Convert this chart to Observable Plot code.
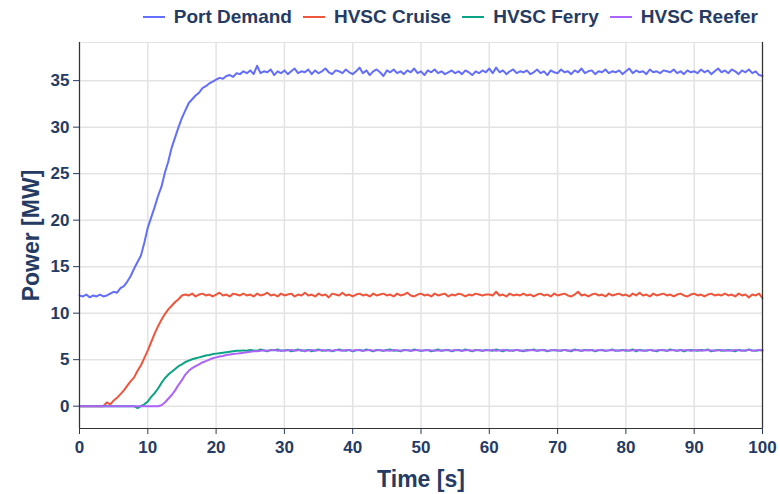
<!DOCTYPE html>
<html>
<head>
<meta charset="utf-8">
<script src="https://cdn.jsdelivr.net/npm/d3@7"></script>
<script src="https://cdn.jsdelivr.net/npm/@observablehq/plot@0.6"></script>
<style>
  html, body { margin: 0; padding: 0; background: #fff; }
  body { width: 780px; height: 494px; overflow: hidden; font-family: "Liberation Sans", Arial, sans-serif; }
  #legend { height: 34px; display: flex; align-items: center; justify-content: flex-end; padding-right: 22px; box-sizing: border-box;
            font-weight: bold; font-size: 19px; color: #253b63; }
  #legend .item { display: flex; align-items: center; margin-left: 11px; }
  #legend .sw { width: 22px; height: 2px; margin-right: 9px; }
</style>
</head>
<body>
<div id="legend"></div>
<div id="chart"></div>
<script>
// sampling grid (seconds)
const tStart = 0;
const tStep = 0.5;

const seriesNames = ["Port Demand", "HVSC Cruise", "HVSC Ferry", "HVSC Reefer"];
const seriesColors = ["#636efa", "#ef553b", "#0aa383", "#ab63fa"];

const portDemand = [
  11.9,11.8,12.0,11.7,11.9,11.8,12.0,11.8,11.9,12.1,
  12.3,12.2,12.7,12.9,13.4,14.0,14.8,15.5,16.2,17.6,
  19.2,20.3,21.4,22.6,23.6,25.1,26.3,27.8,28.9,30.0,
  31.0,31.8,32.6,33.0,33.4,33.7,34.2,34.4,34.7,34.9,
  35.1,35.3,35.2,35.5,35.6,35.4,35.8,35.7,36.0,35.8,
  36.1,35.7,36.6,35.8,36.0,35.9,36.2,35.6,36.0,35.8,
  36.1,35.7,36.0,36.3,35.8,36.0,35.9,36.2,35.7,36.1,
  35.8,36.0,36.3,35.9,35.7,36.1,36.0,35.8,36.2,35.9,
  35.7,36.0,36.4,35.8,36.1,35.6,36.0,36.2,35.9,35.5,
  36.1,35.9,36.2,35.8,36.0,35.7,36.1,35.9,36.3,35.8,
  36.0,35.6,36.1,35.9,36.2,35.8,36.0,35.7,35.9,36.1,
  35.8,36.0,35.7,36.1,35.9,35.6,36.0,35.8,36.1,35.9,
  36.3,35.8,36.4,35.9,36.1,35.7,36.0,36.2,35.8,36.0,
  35.9,36.1,35.7,35.9,36.2,35.8,36.0,35.6,36.1,35.9,
  35.8,36.2,35.9,36.0,35.7,36.1,35.9,36.3,35.8,36.0,
  36.1,35.7,36.0,35.9,36.2,35.8,36.0,35.9,36.1,35.7,
  36.0,36.3,35.8,36.1,35.9,36.0,35.7,36.2,35.9,36.0,
  35.8,36.1,36.0,35.9,36.2,35.8,36.0,35.7,36.1,35.9,
  36.0,35.8,36.2,35.9,36.1,35.7,36.0,36.3,35.9,36.1,
  35.8,36.2,36.0,35.7,36.1,35.9,36.2,35.8,36.0,35.6,
  35.5
];

const hvscCruise = [
  0,0,0,0,0,0,0,0.0,0.4,0.2,
  0.6,0.9,1.3,1.7,2.2,2.7,3.1,3.8,4.4,5.2,
  6.0,6.9,7.8,8.6,9.3,9.9,10.4,10.8,11.2,11.5,
  11.9,12.0,11.9,12.1,11.8,12.0,12.1,11.9,12.0,11.8,
  12.0,12.2,11.9,12.0,11.8,12.1,12.0,11.9,12.1,11.9,
  12.0,11.8,12.1,11.9,12.0,12.2,11.9,12.0,11.8,12.1,
  11.9,12.0,12.1,11.8,12.0,11.9,12.2,11.9,12.0,11.8,
  12.1,11.9,12.0,11.7,12.1,12.0,11.9,12.2,11.9,12.0,
  11.8,12.0,12.1,11.9,12.0,11.8,12.1,11.9,12.0,12.1,
  11.9,12.0,11.8,12.1,11.9,12.0,12.2,11.9,11.8,12.0,
  12.1,11.9,12.0,11.8,12.1,11.9,12.0,12.1,11.8,12.0,
  11.9,12.1,12.0,11.8,12.0,11.9,12.1,12.0,11.9,12.0,
  12.0,11.9,12.3,11.9,12.0,11.8,12.1,11.9,12.0,11.9,
  12.1,11.9,12.0,11.8,12.0,12.1,11.9,12.0,11.8,12.1,
  11.9,12.0,12.1,11.9,11.8,12.0,12.3,11.9,12.0,11.8,
  12.0,12.1,11.9,12.0,11.8,12.1,11.9,12.0,12.1,11.9,
  12.0,11.8,12.1,11.9,12.2,11.9,12.0,11.8,12.1,11.9,
  12.0,12.1,11.9,12.0,11.8,12.0,12.1,11.9,11.8,12.0,
  12.1,11.9,12.0,11.8,12.0,12.1,11.9,12.0,11.9,12.1,
  11.9,12.0,11.8,12.1,11.9,12.0,11.7,12.0,11.9,12.1,
  11.6
];

const hvscFerry = [
  0,0,0,0,0,0,0,0,0,0,
  0,0,0,0,0,0,0,-0.2,0.0,0.2,
  0.5,1.0,1.4,1.9,2.5,3.0,3.4,3.7,4.0,4.3,
  4.5,4.75,4.9,5.05,5.15,5.25,5.35,5.45,5.5,5.6,
  5.65,5.7,5.75,5.8,5.85,5.9,5.95,5.95,6.0,5.95,
  6.05,6.0,5.95,6.1,6.0,5.9,6.05,6.0,6.1,5.95,
  6.0,6.05,5.9,6.0,6.1,5.95,6.0,6.05,5.9,6.0,
  6.1,5.95,6.0,6.05,5.9,6.0,6.1,6.0,5.95,6.05,
  5.9,6.0,6.05,5.95,6.1,6.0,5.9,6.05,6.0,5.95,
  6.05,6.1,5.95,6.0,5.9,6.05,6.0,5.95,6.1,6.0,
  5.95,6.0,6.05,5.9,6.0,6.1,5.95,6.0,6.05,5.9,
  6.0,6.05,5.95,6.1,6.0,5.9,6.05,6.0,5.95,6.05,
  6.0,5.95,6.1,6.0,5.9,6.05,6.0,5.95,6.05,6.0,
  5.9,6.05,6.0,6.1,5.95,6.0,6.05,5.9,6.0,6.05,
  6.0,5.95,6.05,6.0,5.9,6.1,6.0,5.95,6.05,6.0,
  6.05,5.9,6.0,6.05,5.95,6.0,6.1,5.95,6.0,6.05,
  5.95,6.0,6.1,5.9,6.05,6.0,5.95,6.05,6.0,5.9,
  6.05,6.0,5.95,6.1,6.0,5.95,6.05,5.9,6.0,6.05,
  6.0,5.95,6.05,6.0,6.1,5.9,6.0,6.05,5.95,6.0,
  6.05,6.0,5.9,6.05,6.0,5.95,6.1,6.0,5.95,6.0,
  6.05
];

const hvscReefer = [
  0,0,0,0,0,0,0,0,0,0,
  0,0,0,0,0,0,0,0,0,0,
  0,0,0,0,0.1,0.4,0.8,1.2,1.7,2.3,
  2.8,3.4,3.8,4.1,4.3,4.5,4.7,4.85,5.0,5.15,
  5.25,5.35,5.4,5.5,5.55,5.6,5.65,5.7,5.75,5.8,
  5.85,5.9,5.9,5.95,6.0,5.95,6.0,6.05,5.95,6.0,
  5.95,6.0,6.05,5.95,6.0,6.05,5.9,6.0,6.05,5.95,
  6.0,6.05,5.95,6.0,5.95,6.05,6.0,5.95,6.05,6.0,
  5.95,6.05,6.0,5.95,6.0,6.05,5.95,6.0,6.05,5.95,
  6.0,5.95,6.05,6.0,5.95,6.0,6.05,5.95,6.0,6.05,
  5.95,6.0,6.05,6.0,5.95,6.0,5.95,6.05,6.0,5.95,
  6.05,6.0,5.95,6.0,6.05,5.95,6.0,6.05,5.95,6.0,
  6.0,6.05,5.95,6.0,6.05,6.0,5.95,6.0,6.05,5.95,
  6.0,5.95,6.05,6.0,5.95,6.05,6.0,5.95,6.0,6.05,
  5.95,6.0,6.05,5.95,6.0,6.0,6.05,5.95,6.0,6.05,
  6.0,5.95,6.05,6.0,5.95,6.0,6.05,6.0,5.95,6.0,
  6.05,5.95,6.0,6.05,6.0,5.95,6.0,6.05,5.95,6.0,
  6.0,6.05,5.95,6.0,6.05,5.95,6.0,6.0,6.05,5.95,
  6.0,6.05,5.95,6.0,6.05,6.0,5.95,6.0,6.05,5.95,
  6.0,5.95,6.05,6.0,5.95,6.0,6.05,5.95,6.0,6.05,
  5.95
];

const xTicks = [0, 10, 20, 30, 40, 50, 60, 70, 80, 90, 100];
const yTicks = [0, 5, 10, 15, 20, 25, 30, 35];
const xDomain = [0, 100];
const yDomain = [-2.4, 39.1];

const seriesValues = [portDemand, hvscCruise, hvscFerry, hvscReefer];
const rows = [];
seriesValues.forEach((vals, si) => {
  vals.forEach((v, i) => rows.push({ series: seriesNames[si], t: tStart + i * tStep, power: v }));
});

// legend
const legend = document.getElementById("legend");
seriesNames.forEach((name, i) => {
  const item = document.createElement("div");
  item.className = "item";
  const sw = document.createElement("span");
  sw.className = "sw";
  sw.style.background = seriesColors[i];
  item.appendChild(sw);
  item.appendChild(document.createTextNode(name));
  legend.appendChild(item);
});

const ink = "#253b63";
const chart = Plot.plot({
  width: 780,
  height: 460,
  marginTop: 8,
  marginBottom: 66,
  marginLeft: 79,
  marginRight: 18,
  style: { fontFamily: "'Liberation Sans', Arial, sans-serif", fontSize: "17px", fontWeight: "bold", color: ink, background: "#fff" },
  x: { domain: xDomain },
  y: { domain: yDomain },
  color: { domain: seriesNames, range: seriesColors },
  marks: [
    Plot.frame({ stroke: "#e3e3e3", strokeWidth: 1 }),
    Plot.gridX(xTicks, { stroke: "#e3e3e3", strokeOpacity: 1, strokeWidth: 1.5 }),
    Plot.gridY(yTicks, { stroke: "#e3e3e3", strokeOpacity: 1, strokeWidth: 1.5 }),
    Plot.axisX(xTicks, { tickSize: 6, tickPadding: 6, fill: ink, label: "Time [s]", labelAnchor: "center", labelArrow: false, labelOffset: 58, tickFormat: d => d }),
    Plot.axisY(yTicks, { tickSize: 6, tickPadding: 4, fill: ink, label: "Power [MW]", labelAnchor: "center", labelOffset: 57, labelArrow: false, tickFormat: d => d }),
    Plot.line(rows, { x: "t", y: "power", z: "series", stroke: "series", strokeWidth: 2 }),
    Plot.ruleX(xDomain, { stroke: "#333", strokeWidth: 1.2 }),
    Plot.ruleY([yDomain[0]], { stroke: "#333", strokeWidth: 1.2 })
  ]
});
document.getElementById("chart").appendChild(chart);
// enlarge axis titles
chart.querySelectorAll('[aria-label="x-axis label"], [aria-label="y-axis label"]').forEach(g => {
  g.setAttribute("font-size", "23px");
  g.style.fontSize = "23px";
});
</script>
</body>
</html>
